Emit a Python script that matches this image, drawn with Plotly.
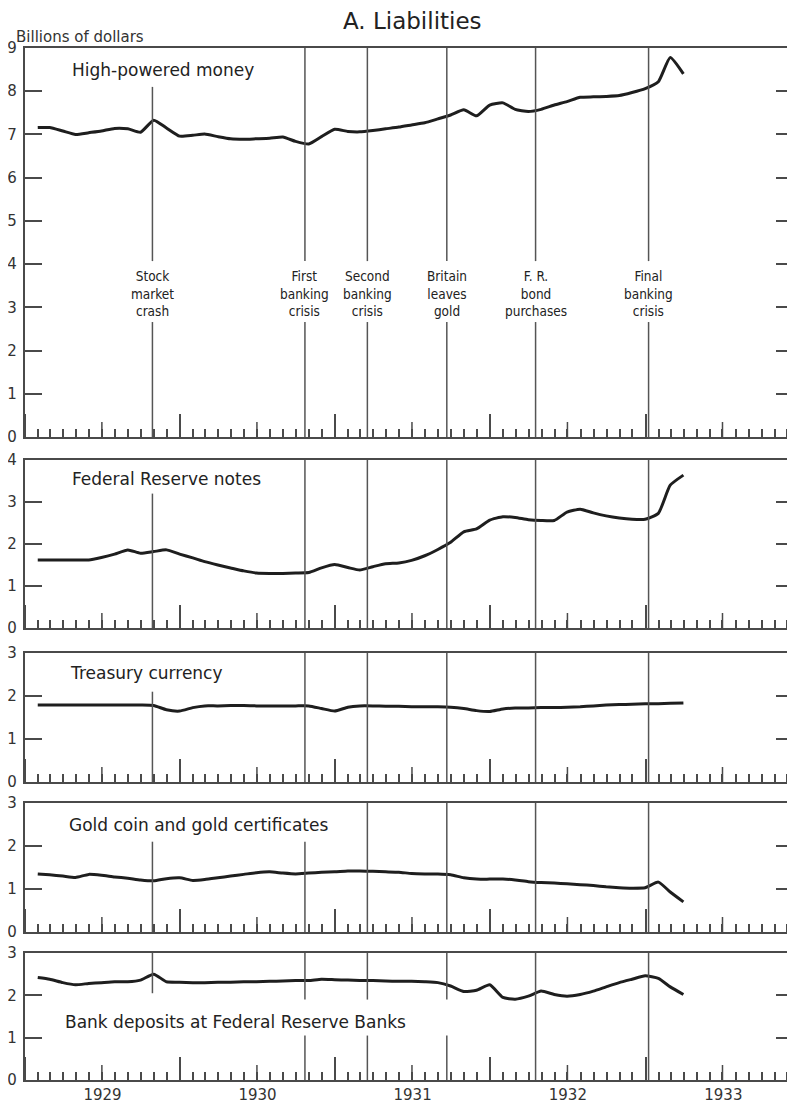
import calendar
import plotly.graph_objects as go

# ---------------- data (billions of dollars, end of month) ----------------
years_months = [(y, m) for y in range(1929, 1934) for m in range(1, 13)][:51]
dates = [f"{y}-{m:02d}-{calendar.monthrange(y, m)[1]}" for y, m in years_months]

high_powered = [7.16, 7.16, 7.08, 7.00, 7.04, 7.08, 7.14, 7.13, 7.05, 7.33,
                7.15, 6.96, 6.98, 7.01, 6.95, 6.90, 6.89, 6.90, 6.91, 6.94,
                6.84, 6.78, 6.95, 7.12, 7.07, 7.06, 7.09, 7.13, 7.17, 7.22,
                7.27, 7.36, 7.45, 7.57, 7.43, 7.68, 7.73, 7.58, 7.53, 7.58,
                7.68, 7.76, 7.86, 7.87, 7.88, 7.90, 7.97, 8.06, 8.22, 8.78, 8.40]

fr_notes = [1.62, 1.62, 1.62, 1.62, 1.62, 1.68, 1.76, 1.86, 1.78, 1.82,
            1.86, 1.76, 1.67, 1.58, 1.50, 1.43, 1.36, 1.31, 1.30, 1.30,
            1.31, 1.32, 1.43, 1.51, 1.44, 1.38, 1.46, 1.53, 1.55, 1.61,
            1.72, 1.87, 2.04, 2.29, 2.36, 2.57, 2.65, 2.63, 2.58, 2.56,
            2.56, 2.76, 2.83, 2.74, 2.67, 2.62, 2.59, 2.59, 2.73, 3.40, 3.64]

treasury = [1.79, 1.79, 1.79, 1.79, 1.79, 1.79, 1.79, 1.79, 1.79, 1.78,
            1.68, 1.65, 1.73, 1.77, 1.77, 1.78, 1.78, 1.77, 1.77, 1.77,
            1.77, 1.77, 1.71, 1.65, 1.74, 1.77, 1.77, 1.76, 1.76, 1.75,
            1.75, 1.75, 1.74, 1.71, 1.66, 1.64, 1.70, 1.72, 1.72, 1.73,
            1.73, 1.74, 1.75, 1.77, 1.79, 1.80, 1.81, 1.82, 1.82, 1.83, 1.84]

gold = [1.35, 1.33, 1.30, 1.27, 1.34, 1.32, 1.28, 1.25, 1.21, 1.19,
        1.24, 1.26, 1.20, 1.22, 1.26, 1.30, 1.34, 1.38, 1.40, 1.37,
        1.35, 1.37, 1.39, 1.40, 1.42, 1.42, 1.41, 1.40, 1.39, 1.36,
        1.35, 1.35, 1.33, 1.26, 1.23, 1.23, 1.23, 1.21, 1.17, 1.15,
        1.14, 1.12, 1.10, 1.08, 1.05, 1.03, 1.02, 1.03, 1.16, 0.93, 0.70]

bank_deposits = [2.42, 2.38, 2.30, 2.25, 2.28, 2.30, 2.32, 2.32, 2.36, 2.50,
                 2.32, 2.31, 2.30, 2.30, 2.31, 2.31, 2.32, 2.32, 2.33, 2.34,
                 2.35, 2.35, 2.38, 2.37, 2.36, 2.35, 2.35, 2.34, 2.33, 2.33,
                 2.32, 2.30, 2.22, 2.09, 2.12, 2.25, 1.95, 1.91, 1.98, 2.10,
                 2.02, 1.98, 2.02, 2.10, 2.20, 2.30, 2.38, 2.46, 2.40, 2.20, 2.02]

panel_titles = ["High-powered money", "Federal Reserve notes", "Treasury currency",
                "Gold coin and gold certificates", "Bank deposits at Federal Reserve Banks"]
series = [high_powered, fr_notes, treasury, gold, bank_deposits]
panel_max = [9, 4, 3, 3, 3]

event_dates = ["1929-10-28", "1930-10-22", "1931-03-18", "1931-09-21", "1932-04-17", "1933-01-08"]
event_labels = ["Stock<br>market<br>crash", "First<br>banking<br>crisis", "Second<br>banking<br>crisis",
                "Britain<br>leaves<br>gold", "F. R.<br>bond<br>purchases", "Final<br>banking<br>crisis"]
tick_years = [1929, 1930, 1931, 1932, 1933]

# ---------------- layout geometry ----------------
OFF = 8                      # page body margin
W, H = 795 - OFF, 1104 - OFF
ML, MR = 25 - OFF, 2
PW = W - ML - MR
panel_px = [(48, 437), (460, 628), (653, 782), (803, 932), (953, 1080)]  # page px: top, bottom
title_px = [(70, 70), (70, 479), (68, 673), (67, 825), (63, 1022)]

def py(p):
    return 1 - (p - OFF) / H

def px(p):
    return (p - OFF - ML) / PW

AX = "#4a4a4a"
INK = "#1e1e1e"
FONT = "DejaVu Sans"
NARROW = "DejaVu Sans Condensed, Liberation Sans Narrow, Arial Narrow, sans-serif"
XR = ["1929-01-01", "1933-12-14"]

fig = go.Figure()
layout = dict(width=W, height=H, margin=dict(l=ML, r=MR, t=0, b=0, autoexpand=False),
              paper_bgcolor="white", plot_bgcolor="white", showlegend=False,
              font=dict(family=FONT, color="#333", size=15))
shapes, annotations = [], []

for i, (vals, ymax) in enumerate(zip(series, panel_max)):
    n = i + 1
    xa, ya = f"x{n}" if n > 1 else "x", f"y{n}" if n > 1 else "y"
    fig.add_trace(go.Scatter(x=dates, y=vals, mode="lines", xaxis=xa, yaxis=ya,
                             line=dict(color=INK, width=3.0, shape="spline", smoothing=0.5),
                             hoverinfo="skip"))
    top, bot = panel_px[i]
    xkey = "xaxis" if n == 1 else f"xaxis{n}"
    ykey = "yaxis" if n == 1 else f"yaxis{n}"
    layout[xkey] = dict(type="date", range=XR, anchor=ya, domain=[0, 1], automargin=False,
                        showline=True, linecolor=AX, linewidth=2.4, mirror=True,
                        ticks="inside", ticklen=23, tickwidth=1.5, tickcolor=AX,
                        dtick="M12", tick0="1929-01-01", tickformat="%Y",
                        ticklabelmode="period", showticklabels=(n == 5),
                        tickfont=dict(family=FONT, size=15, color="#333"),
                        minor=dict(ticks="inside", ticklen=8, tickwidth=1.5, tickcolor=AX,
                                   dtick="M1", showgrid=False),
                        showgrid=False, zeroline=False, fixedrange=True)
    if n > 1:
        layout[xkey]["matches"] = "x"
    layout[ykey] = dict(range=[0, ymax], domain=[py(bot), py(top)], anchor=xa, automargin=False,
                        tickvals=list(range(0, ymax + 1)),
                        showline=True, linecolor=AX, linewidth=2.2, mirror="ticks",
                        ticks="inside", ticklen=17, tickwidth=1.6, tickcolor=AX,
                        ticklabelstandoff=3,
                        tickfont=dict(family=FONT, size=15, color="#333"),
                        showgrid=False, zeroline=False, fixedrange=True)
    # mid-year ticks
    for yr in tick_years:
        shapes.append(dict(type="line", xref=xa, yref=ya, x0=f"{yr}-07-01", x1=f"{yr}-07-01",
                           ysizemode="pixel", yanchor=0, y0=0, y1=15,
                           line=dict(color=AX, width=1.5)))
    # panel title
    tx, ty = title_px[i]
    annotations.append(dict(text=panel_titles[i], xref="paper", yref="paper",
                            x=px(tx), y=py(ty), xanchor="left", yanchor="middle",
                            showarrow=False, font=dict(family=FONT, size=17, color="#222")))

# event line segments per panel (data y-ranges)
segments = {
    1: lambda j: [(0, 2.66), (4.07, 8.1)] if j == 0 else [(0, 2.66), (4.07, 9)],
    2: lambda j: [(0, 3.2)] if j == 0 else [(0, 4)],
    3: lambda j: [(0, 2.1)] if j == 0 else [(0, 3)],
    4: lambda j: [(0, 2.1)] if j in (0, 1) else [(0, 3)],
    5: lambda j: [(2.05, 3)] if j == 0 else ([(0, 1.05), (1.9, 3)] if j in (1, 2, 3) else [(0, 3)]),
}
for n in range(1, 6):
    xa, ya = ("x", "y") if n == 1 else (f"x{n}", f"y{n}")
    for j, d in enumerate(event_dates):
        for (a, b) in segments[n](j):
            shapes.append(dict(type="line", xref=xa, yref=ya, x0=d, x1=d, y0=a, y1=b,
                               line=dict(color="#555", width=1.5)))

for d, lab in zip(event_dates, event_labels):
    annotations.append(dict(text=lab, xref="x", yref="y", x=d, y=3.33,
                            xanchor="center", yanchor="middle", showarrow=False,
                            font=dict(family=NARROW, size=13.5, color="#222")))

annotations.append(dict(text="A. Liabilities", xref="paper", yref="paper",
                        x=px(412), y=py(21), xanchor="center", yanchor="middle",
                        showarrow=False, font=dict(family=FONT, size=23, color="#222")))
annotations.append(dict(text="Billions of dollars", xref="paper", yref="paper",
                        x=px(14), y=py(37), xanchor="left", yanchor="middle",
                        showarrow=False, font=dict(family=FONT, size=15, color="#333")))

layout["shapes"] = shapes
layout["annotations"] = annotations
fig.update_layout(**layout)
fig.write_html("out.html")
